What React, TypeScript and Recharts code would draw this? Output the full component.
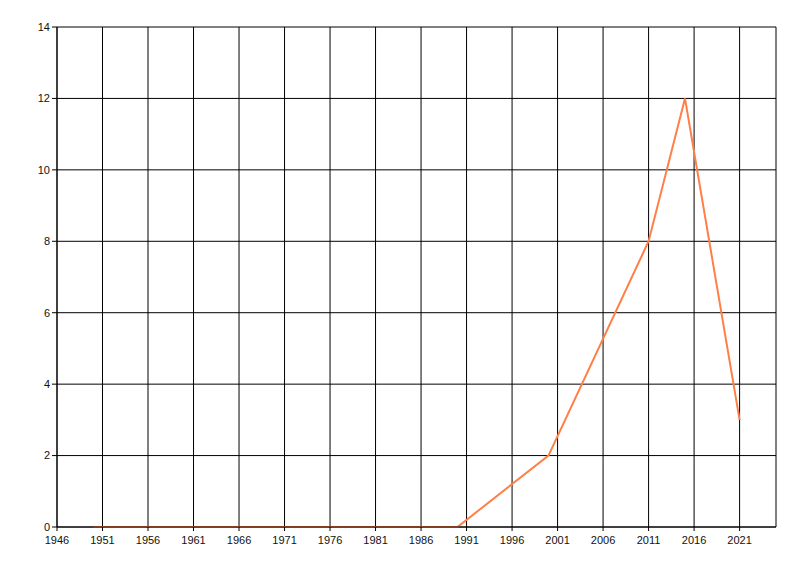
import { LineChart, Line, XAxis, YAxis, CartesianGrid } from "recharts";

const years = [1950, 1970, 1990, 2000, 2011, 2015, 2021];
const counts = [0, 0, 0, 2, 8, 12, 3];
const xTicks = [1946, 1951, 1956, 1961, 1966, 1971, 1976, 1981, 1986, 1991, 1996, 2001, 2006, 2011, 2016, 2021];
const yTicks = [0, 2, 4, 6, 8, 10, 12, 14];

const data = years.map((y, i) => ({ year: y, value: counts[i] }));

const tickStyle = { fontSize: 11, fill: "#111", fontFamily: "Liberation Sans, Arial, sans-serif" };

export default function App() {
  return (
    <div style={{ margin: -8, width: 800, height: 576, background: "#fff" }}>
      <LineChart
        width={800}
        height={576}
        data={data}
        margin={{ top: 27, right: 24, bottom: 19, left: 0 }}
      >
        <CartesianGrid stroke="#000" strokeWidth={1} />
        <XAxis
          dataKey="year"
          type="number"
          domain={[1946, 2025]}
          ticks={xTicks}
          interval={0}
          allowDataOverflow
          height={30}
          stroke="#000"
          tickSize={4}
          tickMargin={5}
          tick={tickStyle}
        />
        <YAxis
          type="number"
          domain={[0, 14]}
          ticks={yTicks}
          interval={0}
          width={57}
          stroke="#000"
          tickSize={5}
          tickMargin={2}
          tick={tickStyle}
        />
        <Line
          type="linear"
          dataKey="value"
          stroke="#ff7f45"
          strokeWidth={2}
          dot={false}
          isAnimationActive={false}
        />
      </LineChart>
    </div>
  );
}
